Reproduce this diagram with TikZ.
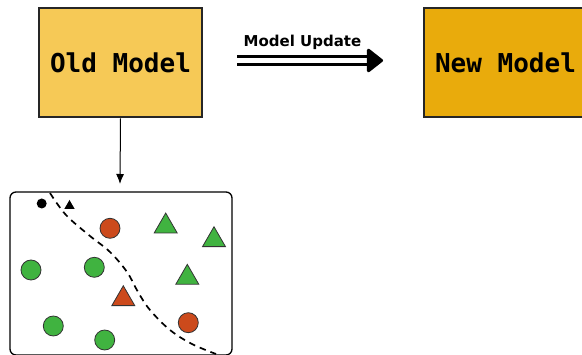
\documentclass[tikz,border=0pt]{standalone}
\usepackage{fontspec}
\newfontfamily\boxfont{DejaVu Sans Mono}
\newfontfamily\labelfont{DejaVu Sans}
\usetikzlibrary{arrows.meta,shapes.geometric}
\definecolor{oldfill}{HTML}{F6C956}
\definecolor{newfill}{HTML}{E9AB0C}
\definecolor{redpt}{HTML}{CC4A1C}
\definecolor{greenpt}{HTML}{40B340}
\tikzset{
  model/.style={draw=black!85, line width=2, minimum width=163, minimum height=109,
    font=\boxfont\bfseries\fontsize{26}{30}\selectfont},
  dot/.style={circle, draw=black!80, line width=0.8, minimum size=20, inner sep=0},
  tri/.style={regular polygon, regular polygon sides=3, draw=black!80, line width=0.8,
    minimum size=26.5, inner sep=0},
}
\begin{document}
\begin{tikzpicture}[x=1pt,y=-1pt]
  \useasboundingbox (0,0) rectangle (582,355);
  % the two models
  \node[model, fill=oldfill] (old) at (120.5,63) {Old Model};
  \node[model, fill=newfill] (new) at (505.5,63) {New Model};

  % update arrow
  \coordinate (upstart) at (237,60.5);
  \coordinate (upend) at (383,60.5);
  \draw[line width=3, double=white, double distance=4.5,
    -{Triangle[length=17,width=26,round]}] (upstart) -- (upend);
  \node[anchor=base, inner sep=0, font=\labelfont\bfseries\fontsize{15}{18}\selectfont]
    (lbl) at (302.5,46.3) {Model Update};

  % data panel
  \node[draw=black, line width=1.3, rounded corners=6, minimum width=222, minimum height=163,
    inner sep=0] (panel) at (121,273.5) {};
  \coordinate (tip) at (120,184);
  \draw[line width=1, -{Latex[length=10,width=8]}] (old.south) -- (tip);

  % boundary
  \draw[line width=1.7, dash pattern=on 6.5 off 5]
    plot[smooth, tension=0.6] coordinates {(50,193) (66,215) (90,236) (110,252) (127,272)
      (138,292) (150,310) (170,330) (192,344) (216,354)};

  % points
  \node[circle, fill=black, minimum size=10, inner sep=0] (bdot) at (41.7,203.5) {};
  \node[regular polygon, regular polygon sides=3, fill=black, minimum size=12, inner sep=0]
    (btri) at (69.5,206) {};
  \node[dot, fill=redpt] (r1) at (110,228.3) {};
  \node[dot, fill=redpt] (r2) at (188.3,322.7) {};
  \node[tri, fill=redpt] (r3) at (123.3,299) {};
  \node[tri, fill=greenpt] (g1) at (165.7,226.3) {};
  \node[tri, fill=greenpt] (g2) at (214,240) {};
  \node[tri, fill=greenpt] (g3) at (187.3,277.6) {};
  \node[dot, fill=greenpt] (g4) at (31,270) {};
  \node[dot, fill=greenpt] (g5) at (94.3,267.3) {};
  \node[dot, fill=greenpt] (g6) at (53.3,326) {};
  \node[dot, fill=greenpt] (g7) at (104.7,340) {};
\end{tikzpicture}
\end{document}
